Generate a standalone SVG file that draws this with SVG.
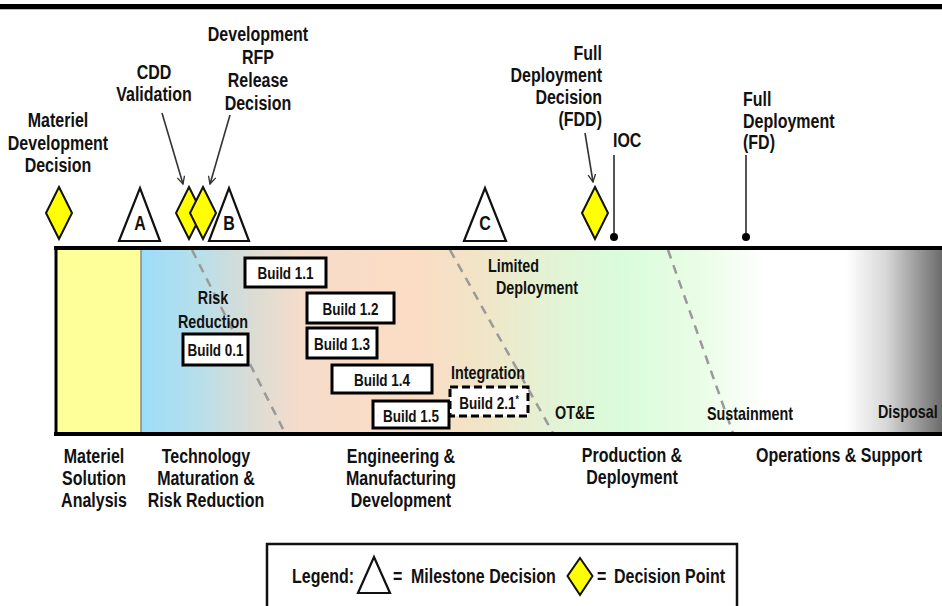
<svg xmlns="http://www.w3.org/2000/svg" width="942" height="606" viewBox="0 0 942 606">
  <defs>
    <style>
      .t { font-family: "Liberation Sans", Arial, sans-serif; font-weight: bold; fill: #111; }
      .lg { font-size: 20.5px; }
      .md { font-size: 18.4px; }
      .sm { font-size: 17.3px; }
      .c { text-anchor: middle; }
      .e { text-anchor: end; }
      .dp { fill: #ffff00; stroke: #111; stroke-width: 2; stroke-linejoin: miter; }
      .ms { fill: #fff; stroke: #111; stroke-width: 2.2; stroke-linejoin: miter; }
      .box { fill: #fff; stroke: #000; stroke-width: 3; }
      .boxd { fill: #fff; stroke: #000; stroke-width: 3; stroke-dasharray: 8 4; }
      .sep { stroke: #9a9a9a; stroke-width: 2.5; stroke-dasharray: 9 7; fill: none; }
      .ptr { stroke: #333; stroke-width: 1.6; fill: none; marker-end: url(#vee); }
      .stem { stroke: #555; stroke-width: 2; }
    </style>
    <marker id="vee" viewBox="0 0 12 12" refX="11" refY="6" markerWidth="9" markerHeight="9" orient="auto" markerUnits="userSpaceOnUse">
      <polyline points="1,1 11,6 1,11" fill="none" stroke="#333" stroke-width="1.8"/>
    </marker>
    <linearGradient id="lifecycle" gradientUnits="userSpaceOnUse" x1="141" y1="0" x2="942" y2="0">
      <stop offset="0" stop-color="#9cdcfa"/>
      <stop offset="0.075" stop-color="#b8dfea"/>
      <stop offset="0.14" stop-color="#dcdcd4"/>
      <stop offset="0.2" stop-color="#f6dccb"/>
      <stop offset="0.33" stop-color="#fcdcc4"/>
      <stop offset="0.42" stop-color="#f2e4c6"/>
      <stop offset="0.52" stop-color="#e2f4d6"/>
      <stop offset="0.6" stop-color="#dafcdc"/>
      <stop offset="0.7" stop-color="#eafde6"/>
      <stop offset="0.78" stop-color="#ffffff"/>
      <stop offset="0.88" stop-color="#ffffff"/>
      <stop offset="0.93" stop-color="#d8d8d8"/>
      <stop offset="1" stop-color="#6c6c6c"/>
    </linearGradient>
  </defs>

  <rect width="942" height="606" fill="#fff"/>

  <!-- header rule -->
  <rect x="0" y="4" width="942" height="5" fill="#000"/>
  <line x1="0" y1="9.5" x2="942" y2="9.5" stroke="#bbb" stroke-width="1"/>

  <!-- lifecycle band -->
  <g id="band">
    <rect x="55" y="248" width="86" height="186" fill="#ffff99"/>
    <rect x="141" y="248" width="801" height="186" fill="url(#lifecycle)"/>
    <line x1="141" y1="248" x2="141" y2="434" stroke="#8a8a8a" stroke-width="1.5"/>
    <path class="sep" d="M192,250 L285,433"/>
    <path class="sep" d="M450,250 L553,433"/>
    <path class="sep" d="M668,250 L733,433"/>
    <line x1="54" y1="248" x2="942" y2="248" stroke="#000" stroke-width="4"/>
    <line x1="54" y1="434" x2="942" y2="434" stroke="#000" stroke-width="4"/>
    <line x1="56" y1="246" x2="56" y2="436" stroke="#000" stroke-width="3"/>
  </g>

  <!-- in-band labels (condensed lettering) -->
  <g id="risk-reduction">
    <text class="t md c" transform="translate(213 304) scale(0.78 1)">Risk</text>
    <text class="t md c" transform="translate(213 328) scale(0.78 1)">Reduction</text>
  </g>
  <g id="limited-deployment">
    <text class="t md" transform="translate(488 272) scale(0.78 1)">Limited</text>
    <text class="t md" transform="translate(496 294) scale(0.78 1)">Deployment</text>
  </g>
  <g id="integration"><text class="t md c" transform="translate(488 379) scale(0.78 1)">Integration</text></g>
  <g id="ote"><text class="t md" transform="translate(555 419) scale(0.78 1)">OT&amp;E</text></g>
  <g id="sustainment"><text class="t md" transform="translate(707 420) scale(0.78 1)">Sustainment</text></g>
  <g id="disposal"><text class="t md" transform="translate(878 418) scale(0.78 1)">Disposal</text></g>

  <!-- builds -->
  <g id="build-1-1"><rect class="box" x="245" y="258" width="81" height="29"/><text class="t sm c" transform="translate(285.5 278.5) scale(0.78 1)">Build 1.1</text></g>
  <g id="build-0-1"><rect class="box" x="183" y="334" width="65" height="31"/><text class="t sm c" transform="translate(215.5 355.5) scale(0.78 1)">Build 0.1</text></g>
  <g id="build-1-2"><rect class="box" x="307" y="293" width="87" height="30"/><text class="t sm c" transform="translate(350.5 314.5) scale(0.78 1)">Build 1.2</text></g>
  <g id="build-1-3"><rect class="box" x="307" y="328" width="70" height="30"/><text class="t sm c" transform="translate(342 349.5) scale(0.78 1)">Build 1.3</text></g>
  <g id="build-1-4"><rect class="box" x="332" y="365" width="100" height="28"/><text class="t sm c" transform="translate(382 385.5) scale(0.78 1)">Build 1.4</text></g>
  <g id="build-1-5"><rect class="box" x="373" y="401" width="76" height="27"/><text class="t sm c" transform="translate(411 421.5) scale(0.78 1)">Build 1.5</text></g>
  <g id="build-2-1"><rect class="boxd" x="450" y="387" width="78" height="29"/><text class="t sm c" transform="translate(489 408.5) scale(0.78 1)">Build 2.1<tspan font-size="11" dy="-6">*</tspan></text></g>

  <!-- decision points and milestones -->
  <g id="mdd">
    <text class="t lg c" transform="translate(58 127) scale(0.78 1)">Materiel</text>
    <text class="t lg c" transform="translate(58 149.5) scale(0.78 1)">Development</text>
    <text class="t lg c" transform="translate(58 172) scale(0.78 1)">Decision</text>
    <polygon class="dp" points="59,187 72,213 59,239 46,213"/>
  </g>
  <g id="milestone-a">
    <polygon class="ms" points="119,241 140,188 160,241"/>
    <text class="t lg c" transform="translate(140 230) scale(0.78 1)">A</text>
  </g>
  <g id="cdd-validation">
    <text class="t lg c" transform="translate(154 79) scale(0.78 1)">CDD</text>
    <text class="t lg c" transform="translate(154 100.5) scale(0.78 1)">Validation</text>
    <polygon class="dp" points="189,187 202,213 189,239 176,213"/>
  </g>
  <g id="rfp-release">
    <text class="t lg c" transform="translate(258 41) scale(0.78 1)">Development</text>
    <text class="t lg c" transform="translate(258 63.5) scale(0.78 1)">RFP</text>
    <text class="t lg c" transform="translate(258 86.5) scale(0.78 1)">Release</text>
    <text class="t lg c" transform="translate(258 109.5) scale(0.78 1)">Decision</text>
    <polygon class="dp" points="203,187 216,213 203,239 190,213"/>
  </g>
  <g id="milestone-b">
    <polygon class="ms" points="209,241 229,188 249,241"/>
    <text class="t lg c" transform="translate(229 230) scale(0.78 1)">B</text>
  </g>
  <g id="milestone-c">
    <polygon class="ms" points="464,241 485,188 506,241"/>
    <text class="t lg c" transform="translate(485 230) scale(0.78 1)">C</text>
  </g>
  <g id="fdd">
    <text class="t lg e" transform="translate(602 60) scale(0.78 1)">Full</text>
    <text class="t lg e" transform="translate(602 82) scale(0.78 1)">Deployment</text>
    <text class="t lg e" transform="translate(602 104) scale(0.78 1)">Decision</text>
    <text class="t lg e" transform="translate(602 126) scale(0.78 1)">(FDD)</text>
    <polygon class="dp" points="595,187 608,213 595,239 582,213"/>
  </g>
  <g id="ioc">
    <text class="t lg" transform="translate(613 147) scale(0.78 1)">IOC</text>
    <line class="stem" x1="614" y1="155" x2="614" y2="236"/>
    <circle cx="614" cy="237" r="4" fill="#000"/>
  </g>
  <g id="fd">
    <text class="t lg" transform="translate(743 106) scale(0.78 1)">Full</text>
    <text class="t lg" transform="translate(743 127.5) scale(0.78 1)">Deployment</text>
    <text class="t lg" transform="translate(743 149) scale(0.78 1)">(FD)</text>
    <line class="stem" x1="746" y1="155" x2="746" y2="236"/>
    <circle cx="746" cy="237" r="4" fill="#000"/>
  </g>

  <!-- pointers -->
  <g id="connectors">
    <path class="ptr" d="M162,113 L183,184"/>
    <path class="ptr" d="M230,115 L210,184"/>
    <path class="ptr" d="M585,133 L593,182"/>
  </g>

  <!-- phases -->
  <g id="phase-msa">
    <text class="t lg c" transform="translate(94 463) scale(0.78 1)">Materiel</text>
    <text class="t lg c" transform="translate(94 485) scale(0.78 1)">Solution</text>
    <text class="t lg c" transform="translate(94 507) scale(0.78 1)">Analysis</text>
  </g>
  <g id="phase-tmrr">
    <text class="t lg c" transform="translate(206 463) scale(0.78 1)">Technology</text>
    <text class="t lg c" transform="translate(206 485) scale(0.78 1)">Maturation &amp;</text>
    <text class="t lg c" transform="translate(206 507) scale(0.78 1)">Risk Reduction</text>
  </g>
  <g id="phase-emd">
    <text class="t lg c" transform="translate(401 463) scale(0.78 1)">Engineering &amp;</text>
    <text class="t lg c" transform="translate(401 485) scale(0.78 1)">Manufacturing</text>
    <text class="t lg c" transform="translate(401 507) scale(0.78 1)">Development</text>
  </g>
  <g id="phase-pd">
    <text class="t lg c" transform="translate(632 461.5) scale(0.78 1)">Production &amp;</text>
    <text class="t lg c" transform="translate(632 483.5) scale(0.78 1)">Deployment</text>
  </g>
  <g id="phase-os">
    <text class="t lg c" transform="translate(839 462) scale(0.78 1)">Operations &amp; Support</text>
  </g>

  <!-- legend -->
  <g id="legend">
    <rect x="267" y="544" width="470" height="80" fill="#fff" stroke="#111" stroke-width="2.5"/>
    <text class="t lg" transform="translate(292 583) scale(0.78 1)">Legend:</text>
    <polygon class="ms" points="358,593 374,557 390,593"/>
    <text class="t lg" transform="translate(393 583) scale(0.78 1)">=</text>
    <text class="t lg" transform="translate(411 583) scale(0.78 1)">Milestone Decision</text>
    <polygon class="dp" points="580,558 592.5,576 580,595 567.5,576"/>
    <text class="t lg" transform="translate(597 583) scale(0.78 1)">=</text>
    <text class="t lg" transform="translate(614 583) scale(0.78 1)">Decision Point</text>
  </g>
</svg>
